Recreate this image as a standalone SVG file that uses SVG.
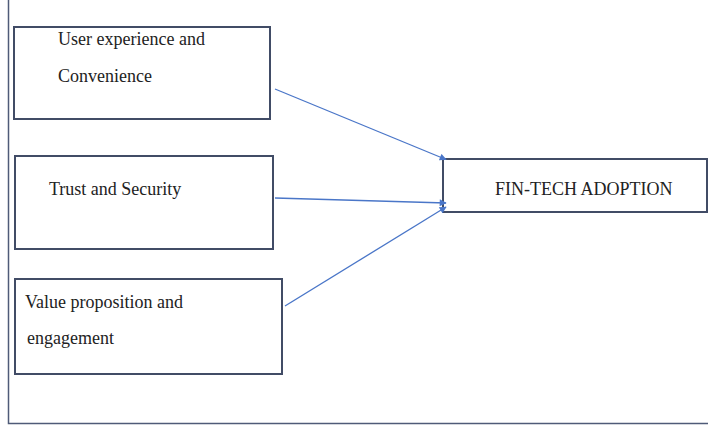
<svg xmlns="http://www.w3.org/2000/svg" width="708" height="425" viewBox="0 0 708 425">
<style>
.box{fill:#fff;stroke:#414c66;stroke-width:2}
.t{font-family:"Liberation Serif","Times New Roman",serif;font-size:18px;fill:#222}
.edge{stroke:#4a76c8;stroke-width:1.3;fill:none;marker-end:url(#ah)}
.frame{stroke:#4f5b78;stroke-width:1.5;fill:none}
</style>
<defs>
<marker id="ah" viewBox="0 0 10 10" refX="9" refY="5" markerWidth="8" markerHeight="7" orient="auto" markerUnits="userSpaceOnUse">
<path d="M0,0 L10,5 L0,10 z" fill="#4a76c8"/>
</marker>
</defs>
<path class="frame" d="M8.5,0 V423.5 H708"/>
<g id="n1"><rect class="box" x="14" y="27" width="256" height="92"/><text class="t" x="58" y="45">User experience and</text><text class="t" x="58" y="82">Convenience</text></g>
<g id="n2"><rect class="box" x="15" y="156" width="258" height="93"/><text class="t" x="49" y="195">Trust and Security</text></g>
<g id="n3"><rect class="box" x="15" y="279" width="267" height="95"/><text class="t" x="25" y="308">Value proposition and</text><text class="t" x="27" y="344">engagement</text></g>
<g id="n4"><rect class="box" x="443" y="159" width="264" height="53"/><text class="t" x="495" y="195">FIN-TECH ADOPTION</text></g>
<g id="edges">
<line class="edge" x1="275" y1="89" x2="446" y2="159.5"/>
<line class="edge" x1="275" y1="198" x2="446" y2="203"/>
<line class="edge" x1="285" y1="306" x2="446" y2="207"/>
</g>
</svg>
